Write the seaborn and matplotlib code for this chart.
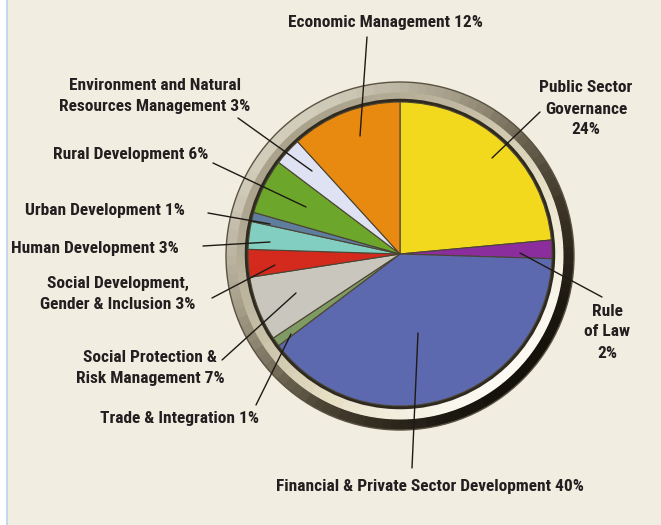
import matplotlib.pyplot as plt
import matplotlib.patches as mpatches
import numpy as np
import seaborn as sns

# ===========================
# Data
# ===========================

sectors = [
    "Public Sector Governance",
    "Rule of Law",
    "Financial & Private Sector Development",
    "Trade & Integration",
    "Social Protection & Risk Management",
    "Social Development, Gender & Inclusion",
    "Human Development",
    "Urban Development",
    "Rural Development",
    "Environment and Natural Resources Management",
    "Economic Management",
]
shares = [24, 2, 40, 1, 7, 3, 3, 1, 6, 3, 12]
labels = [
    "Public Sector\nGovernance\n24%",
    "Rule\nof Law\n2%",
    "Financial & Private Sector Development 40%",
    "Trade & Integration 1%",
    "Social Protection &\nRisk Management 7%",
    "Social Development,\nGender & Inclusion 3%",
    "Human Development 3%",
    "Urban Development 1%",
    "Rural Development 6%",
    "Environment and Natural\nResources Management 3%",
    "Economic Management 12%",
]
slice_colors = [
    "#f3d91e", "#8b2d9c", "#5d69ae", "#7f9a62", "#c9c7bd", "#d42a1e",
    "#82cfc1", "#5f7d9c", "#6ca62a", "#dfe2f2", "#e98a10",
]

# ===========================
# Figure (pixel coordinates, y up)
# ===========================

sns.set_theme(style="white")
plt.rcParams["font.family"] = ["Roboto Condensed", "Liberation Sans Narrow", "Roboto", "DejaVu Sans"]

W, H = 661, 525
fig = plt.figure(figsize=(W / 100, H / 100), dpi=100)
fig.patch.set_facecolor("white")
ax = fig.add_axes([0, 0, 1, 1])

cx, cy = 400, 525 - 254
r_pie = 152

wedges, _ = ax.pie(
    shares,
    colors=slice_colors,
    startangle=90,
    counterclock=False,
    center=(cx, cy),
    radius=r_pie,
    wedgeprops=dict(edgecolor="#4b4434", linewidth=0.8),
)
for w in wedges:
    w.set_zorder(4)

ax.set_xlim(0, W)
ax.set_ylim(0, H)
ax.set_aspect("equal")
ax.axis("off")

ax.add_patch(mpatches.Rectangle((7, 0), W - 7, H, facecolor="#f1ede0", edgecolor="none", zorder=0))
ax.plot([6.5, 6.5], [0, H], color="#c6d6ee", lw=1.5, zorder=1)

# metallic ring: outer band dark towards lower right, inner band bright
rx, ry = cx, cy - 2
outer_shade = sns.blend_palette(["#15120c", "#4a4232", "#9a927c", "#d6d0bf"], 50)
inner_shade = sns.blend_palette(["#fbf9f1", "#e6dfc4", "#c3bba3", "#a8a08a"], 50)
for a0 in range(0, 360, 3):
    k = 0.5 * (1 + np.cos(np.radians(a0 + 1.5 - 135)))
    ax.add_patch(mpatches.Wedge((rx, ry), 174, a0, a0 + 3.6, width=11,
                                facecolor=outer_shade[int(k * 49)], edgecolor="none", zorder=2))
    ax.add_patch(mpatches.Wedge((rx, ry), 163.5, a0, a0 + 3.6, width=12,
                                facecolor=inner_shade[int(k * 49)], edgecolor="none", zorder=2))
ax.add_patch(mpatches.Circle((rx, ry), 174, fill=False, edgecolor="#5a5242", lw=1, zorder=3))
ax.add_patch(mpatches.Circle((cx, cy), 153.5, fill=False, edgecolor="#2f2a20", lw=2.5, zorder=3))

# ===========================
# Labels with leader lines (text centre, line start, line end), pixel y down
# ===========================

label_pos = [
    (586, 109), (607, 332), (430, 486), (180, 418), (150, 368), (118, 294),
    (95, 248), (105, 210), (131, 155), (155, 96), (385, 22),
]
leaders = [
    ((540, 112), (492, 158)),
    ((602, 297), (520, 253)),
    ((412, 468), (418, 333)),
    ((256, 405), (291, 334)),
    ((222, 360), (296, 293)),
    ((212, 298), (275, 265)),
    ((203, 246), (270, 242)),
    ((208, 213), (270, 224)),
    ((213, 163), (306, 207)),
    ((238, 118), (312, 171)),
    ((367, 37), (360, 136)),
]

for text, (tx, ty), ((x0, y0), (x1, y1)) in zip(labels, label_pos, leaders):
    ax.text(tx, H - ty, text, ha="center", va="center", fontsize=12.5,
            fontweight="bold", color="#231f20", linespacing=1.5, zorder=6)
    ax.plot([x0, x1], [H - y0, H - y1], color="#1e1a16", lw=1, zorder=5)

plt.savefig("out.png", dpi=100, facecolor=fig.get_facecolor())
plt.close()
